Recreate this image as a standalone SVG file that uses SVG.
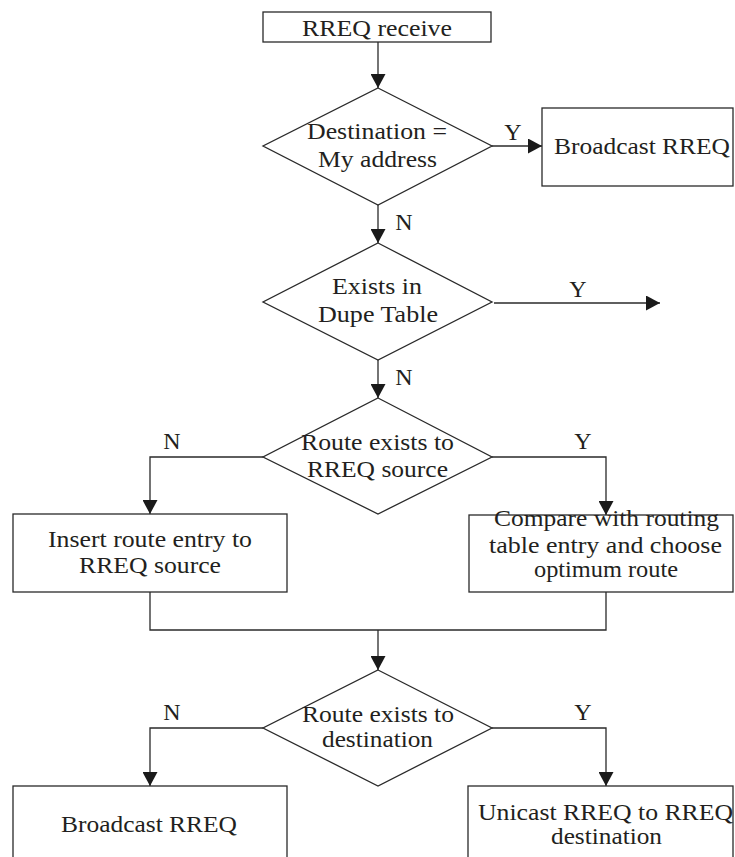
<svg xmlns="http://www.w3.org/2000/svg" width="735" height="857" viewBox="0 0 735 857">
<style>
.shape{fill:#fff;stroke:#2a2a2a;stroke-width:1.3}
.conn{fill:none;stroke:#2a2a2a;stroke-width:1.3}
text{font-family:"Liberation Serif","Times New Roman",serif;font-size:24px;fill:#231f20;text-anchor:middle}
</style>
<defs>
<marker id="arr" viewBox="0 0 14 15" refX="14" refY="7.5" markerWidth="14" markerHeight="15" markerUnits="userSpaceOnUse" orient="auto">
<path d="M0,0 L14,7.5 L0,15 z" fill="#1a1a1a"/>
</marker>
</defs>
<rect width="735" height="857" fill="#fff"/>
<g id="connectors">
<line class="conn" x1="378" y1="42" x2="378" y2="88" marker-end="url(#arr)"/>
<line class="conn" x1="492" y1="146" x2="542" y2="146" marker-end="url(#arr)"/>
<line class="conn" x1="378" y1="205" x2="378" y2="243" marker-end="url(#arr)"/>
<line class="conn" x1="494" y1="303" x2="660" y2="303" marker-end="url(#arr)"/>
<line class="conn" x1="378" y1="360" x2="378" y2="398" marker-end="url(#arr)"/>
<polyline class="conn" points="263,457 150,457 150,514" marker-end="url(#arr)"/>
<polyline class="conn" points="492,457 606,457 606,515" marker-end="url(#arr)"/>
<polyline class="conn" points="150,592 150,630 606,630 606,592"/>
<line class="conn" x1="378" y1="630" x2="378" y2="670" marker-end="url(#arr)"/>
<polyline class="conn" points="263,728 150,728 150,786" marker-end="url(#arr)"/>
<polyline class="conn" points="492,728 606,728 606,786" marker-end="url(#arr)"/>
<text x="513" y="140">Y</text>
<text x="404" y="230">N</text>
<text x="578" y="297">Y</text>
<text x="404" y="385">N</text>
<text x="172" y="449">N</text>
<text x="583" y="449">Y</text>
<text x="172" y="720">N</text>
<text x="583" y="720">Y</text>
</g>
<g id="n-receive">
<rect class="shape" x="263" y="12" width="228" height="30"/>
<text x="377" y="36" textLength="150" lengthAdjust="spacingAndGlyphs">RREQ receive</text>
</g>
<g id="d-dest">
<polygon class="shape" points="378,88 492,146 378,205 263,146"/>
<text x="377" y="139" textLength="140" lengthAdjust="spacingAndGlyphs">Destination =</text>
<text x="377.5" y="167" textLength="119" lengthAdjust="spacingAndGlyphs">My address</text>
</g>
<g id="n-broadcast-top">
<rect class="shape" x="542" y="108" width="191" height="78"/>
<text x="642" y="154" textLength="176" lengthAdjust="spacingAndGlyphs">Broadcast RREQ</text>
</g>
<g id="d-dupe">
<polygon class="shape" points="378,243 492,302 378,360 263,302"/>
<text x="377" y="294" textLength="90" lengthAdjust="spacingAndGlyphs">Exists in</text>
<text x="378" y="322" textLength="120" lengthAdjust="spacingAndGlyphs">Dupe Table</text>
</g>
<g id="d-route-src">
<polygon class="shape" points="378,398 492,457 378,514 263,457"/>
<text x="377.5" y="450" textLength="153" lengthAdjust="spacingAndGlyphs">Route exists to</text>
<text x="377.5" y="477" textLength="141" lengthAdjust="spacingAndGlyphs">RREQ source</text>
</g>
<g id="n-insert">
<rect class="shape" x="13" y="514" width="274" height="78"/>
<text x="150" y="547" textLength="204" lengthAdjust="spacingAndGlyphs">Insert route entry to</text>
<text x="150" y="573" textLength="142" lengthAdjust="spacingAndGlyphs">RREQ source</text>
</g>
<g id="n-compare">
<rect class="shape" x="469" y="515" width="264" height="77"/>
<text x="606.5" y="526" textLength="225" lengthAdjust="spacingAndGlyphs">Compare with routing</text>
<text x="605.5" y="553" textLength="233" lengthAdjust="spacingAndGlyphs">table entry and choose</text>
<text x="606" y="577" textLength="144" lengthAdjust="spacingAndGlyphs">optimum route</text>
</g>
<g id="d-route-dest">
<polygon class="shape" points="378,670 492,728 378,786 263,728"/>
<text x="378" y="722" textLength="152" lengthAdjust="spacingAndGlyphs">Route exists to</text>
<text x="377.5" y="747" textLength="111" lengthAdjust="spacingAndGlyphs">destination</text>
</g>
<g id="n-broadcast-bottom">
<rect class="shape" x="13" y="786" width="274" height="90"/>
<text x="149" y="832" textLength="176" lengthAdjust="spacingAndGlyphs">Broadcast RREQ</text>
</g>
<g id="n-unicast">
<rect class="shape" x="468" y="786" width="265" height="90"/>
<text x="605.5" y="820" textLength="255" lengthAdjust="spacingAndGlyphs">Unicast RREQ to RREQ</text>
<text x="606.5" y="844" textLength="111" lengthAdjust="spacingAndGlyphs">destination</text>
</g>
</svg>
